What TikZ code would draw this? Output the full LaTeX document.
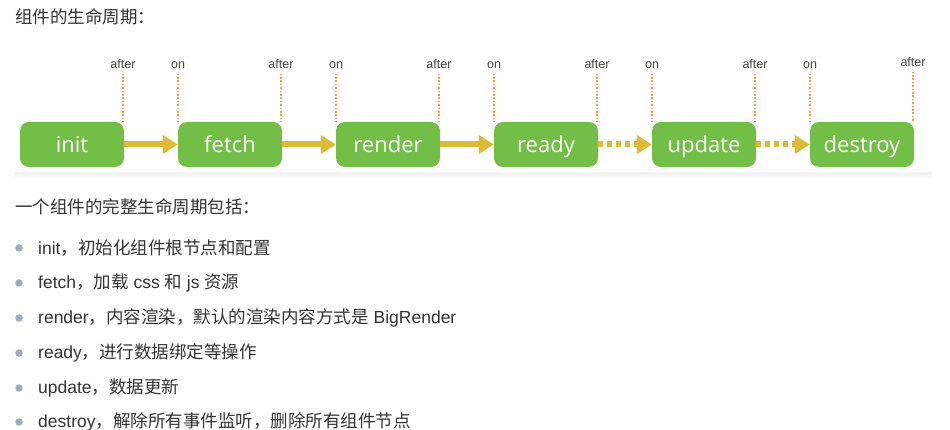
\documentclass[tikz,border=0pt]{standalone}
\usepackage{fontspec}
\setmainfont{Liberation Sans}
\newfontfamily\cjk{Noto Sans CJK SC}
\newfontfamily\boxfont{Open Sans}
\usetikzlibrary{arrows.meta,calc}
\definecolor{txt}{HTML}{333333}
\definecolor{grn}{HTML}{72BE46}
\definecolor{ylw}{HTML}{DDBB36}
\definecolor{org}{HTML}{E8A24E}
\definecolor{lblc}{HTML}{444444}
\definecolor{bul}{HTML}{A3ABB9}
\definecolor{shd}{HTML}{F2F2F2}
\definecolor{shd2}{HTML}{F7F7F7}
\tikzset{
  stagebox/.style={fill=grn, rounded corners=9pt, minimum width=104pt, minimum height=45pt,
    inner sep=0pt, text=white, text height=17pt, text depth=1pt,
    font=\boxfont\fontsize{22}{22}\selectfont},
  arr/.style={draw=ylw, line width=6pt, -{Triangle[length=15pt,width=18pt]}, shorten >=0pt},
  darr/.style={arr, dash pattern=on 5pt off 4pt},
  vdot/.style={draw=org, line width=1.8pt, dash pattern=on 1.6pt off 1.8pt},
  lbl/.style={text=lblc, font=\fontsize{12.5}{12.5}\selectfont, inner sep=0pt,
    text height=9pt, text depth=0pt},
  para/.style={anchor=west, inner sep=0pt, text=txt, font=\fontsize{17.5}{17.5}\selectfont},
  bullet/.style={circle, fill=bul, minimum size=7.5pt, inner sep=0pt}
}
\begin{document}
\begin{tikzpicture}[x=1pt,y=-1pt]
\useasboundingbox (0,0) rectangle (950,430);
% title
\node[para] (title) at (15,17) {{\cjk 组件的生命周期：}};
% panel
\fill[shd2] (15,52) rectangle (932,178);
\fill[shd] (15,51) rectangle (932,175);
\fill[white] (15,50) rectangle (932,172);
% boxes
\node[stagebox] (init)    at (72,144.5)  {init};
\node[stagebox] (fetch)   at (230,144.5) {fetch};
\node[stagebox] (render)  at (388,144.5) {render};
\node[stagebox] (ready)   at (546,144.5) {ready};
\node[stagebox] (update)  at (704,144.5) {update};
\node[stagebox] (destroy) at (862,144.5) {destroy};
% arrows
\draw[arr] (init.east) -- (fetch.west);
\draw[arr] (fetch.east) -- (render.west);
\draw[arr] (render.east) -- (ready.west);
\draw[darr] (ready.east) -- (update.west);
\draw[darr] (update.east) -- (destroy.west);
% labels
\node[lbl] (a1) at (123,64) {after};
\node[lbl] (o2) at (178,64) {on};
\node[lbl] (a2) at (281,64) {after};
\node[lbl] (o3) at (336,64) {on};
\node[lbl] (a3) at (439,64) {after};
\node[lbl] (o4) at (494,64) {on};
\node[lbl] (a4) at (597,64) {after};
\node[lbl] (o5) at (652,64) {on};
\node[lbl] (a5) at (755,64) {after};
\node[lbl] (o6) at (810,64) {on};
\node[lbl] (a6) at (913,62) {after};
\foreach \l/\b in {a1/init,o2/fetch,a2/fetch,o3/render,a3/render,o4/ready,a4/ready,o5/update,a5/update,o6/destroy,a6/destroy}{
  \draw[vdot] ($(\l.south)+(0,5)$) -- (\l.south |- \b.north);
}
% list
\node[para] (head) at (15,207) {{\cjk 一个组件的完整生命周期包括：}};
\node[bullet] (b1) at (19,248) {};
\node[para] (t1) at (38,248) {init{\cjk ，初始化组件根节点和配置}};
\node[bullet] (b2) at (19,283) {};
\node[para] (t2) at (38,283) {fetch{\cjk ，加载} css {\cjk 和} js {\cjk 资源}};
\node[bullet] (b3) at (19,318) {};
\node[para] (t3) at (38,318) {render{\cjk ，内容渲染，默认的渲染内容方式是} BigRender};
\node[bullet] (b4) at (19,353) {};
\node[para] (t4) at (38,353) {ready{\cjk ，进行数据绑定等操作}};
\node[bullet] (b5) at (19,388) {};
\node[para] (t5) at (38,388) {update{\cjk ，数据更新}};
\node[bullet] (b6) at (19,422) {};
\node[para] (t6) at (38,422) {destroy{\cjk ，解除所有事件监听，删除所有组件节点}};
\end{tikzpicture}
\end{document}
